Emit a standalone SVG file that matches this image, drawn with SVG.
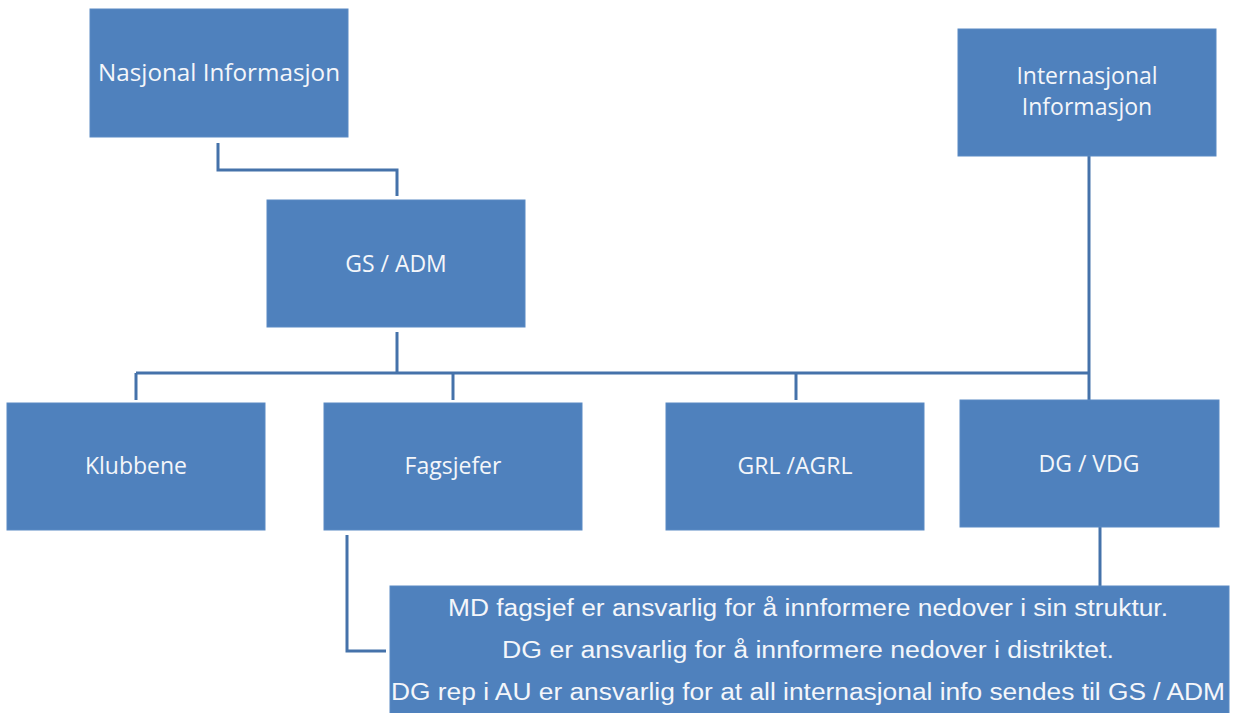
<svg xmlns="http://www.w3.org/2000/svg" width="1234" height="713" viewBox="0 0 1234 713">
<style>
.box{fill:#4F81BD;stroke:#5a8ac4;stroke-width:1}
.lbl{font-family:"Open Sans","Liberation Sans",sans-serif;font-size:23px;fill:#f4f6fa;text-anchor:middle}
.note{font-family:"Liberation Sans",sans-serif;font-size:23px;fill:#f4f6fa;text-anchor:middle}
.conn{fill:none;stroke:#4572aa;stroke-width:3}
</style>
<g id="connectors">
<path class="conn" d="M218 143 V170 H397 V196"/>
<path class="conn" d="M397 332 V373"/>
<path class="conn" d="M136 373 H1090"/>
<path class="conn" d="M136 373 V400"/>
<path class="conn" d="M453 373 V400"/>
<path class="conn" d="M796 373 V400"/>
<path class="conn" d="M1089 156 V400"/>
<path class="conn" d="M1100 512 V587"/>
<path class="conn" d="M347 535 V651 H386"/>
</g>
<g id="nasjonal">
<rect class="box" x="90" y="9" width="258" height="128"/>
<text class="lbl" x="219" y="81" textLength="242" lengthAdjust="spacingAndGlyphs">Nasjonal Informasjon</text>
</g>
<g id="internasjonal">
<rect class="box" x="958" y="29" width="258" height="127"/>
<text class="lbl" x="1087" y="84">Internasjonal</text>
<text class="lbl" x="1087" y="115">Informasjon</text>
</g>
<g id="gsadm">
<rect class="box" x="267" y="200" width="258" height="127"/>
<text class="lbl" x="396" y="272">GS / ADM</text>
</g>
<g id="klubbene">
<rect class="box" x="7" y="403" width="258" height="127"/>
<text class="lbl" x="136" y="474">Klubbene</text>
</g>
<g id="fagsjefer">
<rect class="box" x="324" y="403" width="258" height="127"/>
<text class="lbl" x="453" y="474">Fagsjefer</text>
</g>
<g id="grl">
<rect class="box" x="666" y="403" width="258" height="127"/>
<text class="lbl" x="795" y="474">GRL /AGRL</text>
</g>
<g id="dgvdg">
<rect class="box" x="960" y="400" width="259" height="127"/>
<text class="lbl" x="1089" y="472">DG / VDG</text>
</g>
<g id="note">
<rect class="box" x="390" y="586" width="839" height="130"/>
<text class="note" x="808" y="616" textLength="720" lengthAdjust="spacingAndGlyphs">MD fagsjef er ansvarlig for å innformere nedover i sin struktur.</text>
<text class="note" x="808" y="658" textLength="612" lengthAdjust="spacingAndGlyphs">DG er ansvarlig for å innformere nedover i distriktet.</text>
<text class="note" x="808" y="700" textLength="834" lengthAdjust="spacingAndGlyphs">DG rep i AU er ansvarlig for at all internasjonal info sendes til GS / ADM</text>
</g>
</svg>
